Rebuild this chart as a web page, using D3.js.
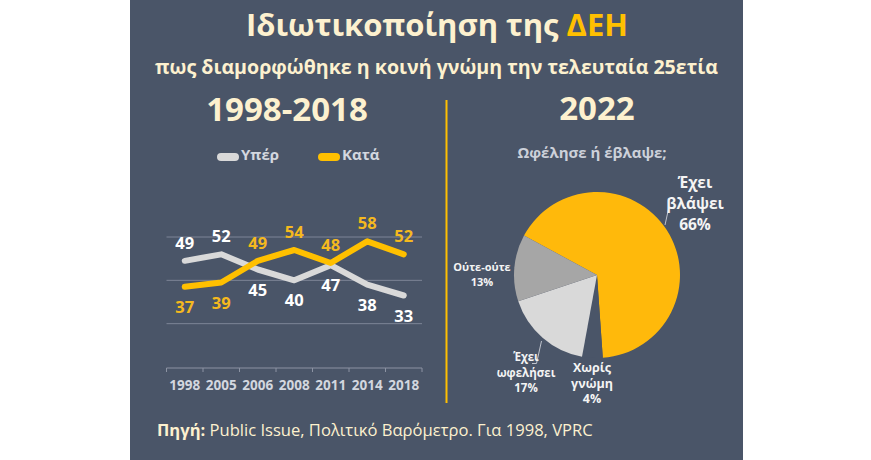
<!DOCTYPE html>
<html>
<head>
<meta charset="utf-8">
<script src="https://cdn.jsdelivr.net/npm/d3@7"></script>
<style>
  body { margin: 0; background: #fff; }
  svg { display: block; font-family: "Open Sans", "Noto Sans", sans-serif; }
</style>
</head>
<body>
<div id="chart"></div>
<script>
// ============================
// Data
// ============================
const years = ["1998", "2005", "2006", "2008", "2011", "2014", "2018"];
const yper = [49, 52, 45, 40, 47, 38, 33];
const kata = [37, 39, 49, 54, 48, 58, 52];
const seriesNames = ["Υπέρ", "Κατά"];

const pieLabels = ["Έχει βλάψει", "Χωρίς γνώμη", "Έχει ωφελήσει", "Ούτε-ούτε"];
const pieValues = [66, 4, 17, 13];

const width = 871, height = 460;
const bg = "#4a5568";
const cream = "#fdf1cf";
const yellow = "#ffc000";
const lightGray = "#d9d9d9";

const svg = d3.select("#chart").append("svg")
  .attr("width", width).attr("height", height);

// panel
svg.append("rect")
  .attr("x", 130).attr("y", 0).attr("width", 613).attr("height", height)
  .attr("fill", bg);

// scale a text's font size so it spans a given width
function fitWidth(sel, w) {
  const node = sel.node();
  const fs = parseFloat(sel.attr("font-size"));
  const len = node.getComputedTextLength();
  sel.attr("font-size", fs * w / len);
}

// ============================
// Titles
// ============================
const title = svg.append("text")
  .attr("x", 437).attr("y", 36)
  .attr("text-anchor", "middle")
  .attr("font-size", 32).attr("font-weight", 700)
  .attr("fill", cream);
title.append("tspan").text("Ιδιωτικοποίηση της ");
title.append("tspan").attr("fill", yellow).text("ΔΕΗ");
fitWidth(title, 382);

const subtitle = svg.append("text")
  .attr("x", 436.5).attr("y", 73.5)
  .attr("text-anchor", "middle")
  .attr("font-size", 20).attr("font-weight", 700)
  .attr("fill", cream)
  .text("πως διαμορφώθηκε η κοινή γνώμη την τελευταία 25ετία");
fitWidth(subtitle, 563);

svg.append("text")
  .attr("x", 287).attr("y", 121)
  .attr("text-anchor", "middle")
  .attr("font-size", 33).attr("font-weight", 700)
  .attr("fill", cream)
  .text("1998-2018");

svg.append("text")
  .attr("x", 597).attr("y", 120)
  .attr("text-anchor", "middle")
  .attr("font-size", 33).attr("font-weight", 700)
  .attr("fill", cream)
  .text("2022");

// divider
svg.append("line")
  .attr("x1", 446.5).attr("x2", 446.5)
  .attr("y1", 100).attr("y2", 403)
  .attr("stroke", yellow).attr("stroke-width", 2);

// ============================
// Line chart
// ============================
const x = d3.scaleBand().domain(years).range([166.5, 422]);
const y = d3.scaleLinear().domain([0, 60]).range([367, 237]);

// grid
svg.append("g")
  .selectAll("line")
  .data([20, 40, 60])
  .join("line")
  .attr("x1", x.range()[0]).attr("x2", x.range()[1])
  .attr("y1", d => y(d)).attr("y2", d => y(d))
  .attr("stroke", "#7d8597").attr("stroke-width", 1);

// x axis: line + ticks between categories, labels centred
const axisG = svg.append("g").attr("transform", `translate(0,${y(0) + 1})`);
axisG.append("line")
  .attr("x1", x.range()[0]).attr("x2", x.range()[1])
  .attr("stroke", "#8c93a3");
axisG.selectAll(".tk")
  .data(years.map(d => x(d)).concat([x.range()[1]]))
  .join("line")
  .attr("class", "tk")
  .attr("x1", d => d).attr("x2", d => d)
  .attr("y1", 0).attr("y2", 4)
  .attr("stroke", "#8c93a3");
axisG.selectAll(".lb")
  .data(years)
  .join("text")
  .attr("class", "lb")
  .attr("x", d => x(d) + x.bandwidth() / 2)
  .attr("y", 22)
  .attr("text-anchor", "middle")
  .attr("font-size", 13.5).attr("font-weight", 700)
  .attr("fill", "#d3d7df")
  .text(d => d);

const line = d3.line()
  .x((d, i) => x(years[i]) + x.bandwidth() / 2)
  .y(d => y(d));

const series = [
  { name: seriesNames[0], values: yper, other: kata, color: lightGray, label: "#ffffff" },
  { name: seriesNames[1], values: kata, other: yper, color: yellow, label: "#f5b91e" }
];

series.forEach(s => {
  svg.append("path")
    .datum(s.values)
    .attr("d", line)
    .attr("fill", "none")
    .attr("stroke", s.color)
    .attr("stroke-width", 6)
    .attr("stroke-linejoin", "round")
    .attr("stroke-linecap", "round");
});

series.forEach(s => {
  svg.append("g")
    .selectAll("text")
    .data(s.values)
    .join("text")
    .attr("x", (d, i) => x(years[i]) + x.bandwidth() / 2)
    .attr("y", (d, i) => d >= s.other[i] ? y(d) - 12 : y(d) + 26)
    .attr("text-anchor", "middle")
    .attr("font-size", 16.5).attr("font-weight", 700)
    .attr("fill", s.label)
    .text(d => d);
});

// legend
const legend = svg.append("g");
[[217, seriesNames[0], lightGray], [318, seriesNames[1], yellow]].forEach(([lx, name, c]) => {
  legend.append("line")
    .attr("x1", lx + 4).attr("x2", lx + 18)
    .attr("y1", 157).attr("y2", 157)
    .attr("stroke", c).attr("stroke-width", 8)
    .attr("stroke-linecap", "round");
  legend.append("text")
    .attr("x", lx + 24).attr("y", 159.5)
    .attr("font-size", 15).attr("font-weight", 700)
    .attr("fill", "#d3d7df")
    .text(name);
});

// ============================
// Pie chart
// ============================
const cx = 597, cy = 275, r = 83;
const pieColors = ["#ffb90b", bg, "#d9d9d9", "#a6a6a6"];

svg.append("text")
  .attr("x", 592).attr("y", 158)
  .attr("text-anchor", "middle")
  .attr("font-size", 15).attr("font-weight", 700)
  .attr("fill", "#cdd1da")
  .text("Ωφέλησε ή έβλαψε;");

const pie = d3.pie().sort(null).startAngle(-61.6 * Math.PI / 180)
  .endAngle(-61.6 * Math.PI / 180 + 2 * Math.PI);
const arc = d3.arc().innerRadius(0).outerRadius(r);

svg.append("g")
  .attr("transform", `translate(${cx},${cy})`)
  .selectAll("path")
  .data(pie(pieValues))
  .join("path")
  .attr("d", arc)
  .attr("fill", (d, i) => pieColors[i]);

// leader lines
svg.append("polyline")
  .attr("points", "668.5,209 665,225")
  .attr("fill", "none").attr("stroke", "#bfc3cc").attr("stroke-width", 1);
svg.append("polyline")
  .attr("points", "532,363.5 536.5,363.5 541.5,341")
  .attr("fill", "none").attr("stroke", "#bfc3cc").attr("stroke-width", 1);

// pie labels: [label index, centre x, first baseline, line step, font size]
const pieLabelLayout = [
  [0, 695, 188, 21, 15.5],
  [1, 592, 372, 15.5, 12.5],
  [2, 526, 361, 15.5, 11.5],
  [3, 482, 271, 14.5, 11]
];
pieLabelLayout.forEach(([i, lx, ly, step, fs]) => {
  const words = pieLabels[i].split(" ");
  const lines = words.concat([pieValues[i] + "%"]);
  const t = svg.append("text")
    .attr("text-anchor", "middle")
    .attr("font-size", fs).attr("font-weight", 700)
    .attr("fill", "#f4f4f4");
  if (i === 3) {
    // "Ούτε-ούτε" stays on one line
    t.append("tspan").attr("x", lx).attr("y", ly).text(pieLabels[i]);
    t.append("tspan").attr("x", lx).attr("y", ly + step).text(pieValues[i] + "%");
  } else {
    lines.forEach((l, k) => {
      t.append("tspan").attr("x", lx).attr("y", ly + k * step).text(l);
    });
  }
});

// ============================
// Source
// ============================
const source = svg.append("text")
  .attr("x", 157).attr("y", 435.5)
  .attr("font-size", 17)
  .attr("fill", cream);
source.append("tspan").attr("font-weight", 700).text("Πηγή:");
source.append("tspan").text(" Public Issue, Πολιτικό Βαρόμετρο. Για 1998, VPRC");
fitWidth(source, 436);
</script>
</body>
</html>
